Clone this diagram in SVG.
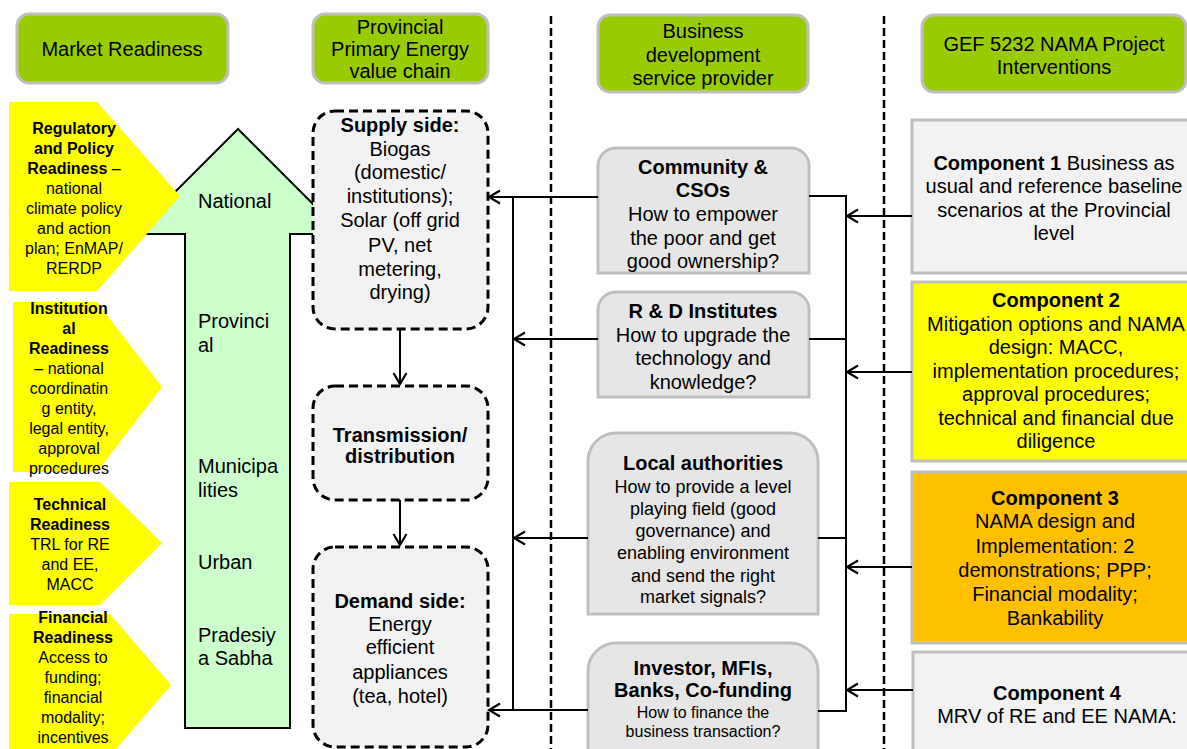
<svg xmlns="http://www.w3.org/2000/svg" width="1187" height="749" viewBox="0 0 1187 749">
<style>
text{font-family:"Liberation Sans",Arial,sans-serif;fill:#000;text-anchor:middle}
.b{font-weight:bold}
.f16{font-size:16px}
.f18{font-size:18px}
.f20{font-size:20px}
.hdr{fill:#99cc00;stroke:#bfbfbf;stroke-width:3}
.pent{fill:#ffff00;stroke:none}
.vc{fill:#f2f2f2;stroke:#000;stroke-width:3;stroke-dasharray:9 5}
.bds{fill:#e6e6e6;stroke:#bfbfbf;stroke-width:3}
.cmp{stroke:#bfbfbf;stroke-width:3}
.sep{stroke:#000;stroke-width:2.5;stroke-dasharray:8 4;fill:none}
.ln{stroke:#000;stroke-width:2;fill:none}
.lft{text-anchor:start}
</style>
<defs>
<marker id="ah" markerUnits="userSpaceOnUse" viewBox="0 0 16 16" markerWidth="16" markerHeight="16" refX="14" refY="8" orient="auto">
<path d="M3,1.5 L14,8 L3,14.5" fill="none" stroke="#000" stroke-width="2.2"/>
</marker>
</defs>

<!-- separators -->
<g id="separators">
<line class="sep" x1="551" y1="16" x2="551" y2="749"/>
<line class="sep" x1="884" y1="16" x2="884" y2="749"/>
</g>

<!-- headers -->
<g id="hdr-market">
<rect class="hdr" x="17" y="14" width="211" height="69" rx="12"/>
<text class="f20" x="122" y="56">Market Readiness</text>
</g>
<g id="hdr-provincial">
<rect class="hdr" x="313" y="14" width="175" height="69" rx="12"/>
<text class="f20" x="400" y="34">Provincial</text>
<text class="f20" x="400" y="56">Primary Energy</text>
<text class="f20" x="400" y="78">value chain</text>
</g>
<g id="hdr-bds">
<rect class="hdr" x="598" y="15" width="210" height="77" rx="12"/>
<text class="f20" x="703" y="38">Business</text>
<text class="f20" x="703" y="62">development</text>
<text class="f20" x="703" y="85">service provider</text>
</g>
<g id="hdr-gef">
<rect class="hdr" x="922" y="15" width="264" height="77" rx="12"/>
<text class="f20" x="1054" y="51">GEF 5232 NAMA Project</text>
<text class="f20" x="1054" y="74">Interventions</text>
</g>

<!-- green level arrow -->
<g id="levels">
<polygon points="238,129 343,234 290,234 290,728 185,728 185,234 133,234" fill="#ccffcc" stroke="#000" stroke-width="2"/>
<text class="f20 lft" x="198" y="208">National</text>
<text class="f20 lft" x="198" y="328">Provinci</text>
<text class="f20 lft" x="198" y="352">al</text>
<text class="f20 lft" x="198" y="473">Municipa</text>
<text class="f20 lft" x="198" y="497">lities</text>
<text class="f20 lft" x="198" y="569">Urban</text>
<text class="f20 lft" x="198" y="642">Pradesiy</text>
<text class="f20 lft" x="198" y="665">a Sabha</text>
</g>

<!-- readiness pentagons -->
<g id="regulatory">
<polygon class="pent" points="9,102 97,102 180,196 97,291 9,291"/>
<text class="f16 b" x="74" y="134">Regulatory</text>
<text class="f16 b" x="74" y="154">and Policy</text>
<text class="f16" x="74" y="174"><tspan class="b">Readiness</tspan> –</text>
<text class="f16" x="74" y="194">national</text>
<text class="f16" x="74" y="214">climate policy</text>
<text class="f16" x="74" y="234">and action</text>
<text class="f16" x="74" y="254">plan; EnMAP/</text>
<text class="f16" x="74" y="274">RERDP</text>
</g>
<g id="institutional">
<polygon class="pent" points="13,302 97,302 162,387 97,472 13,472"/>
<text class="f16 b" x="69" y="314">Institution</text>
<text class="f16 b" x="69" y="334">al</text>
<text class="f16 b" x="69" y="354">Readiness</text>
<text class="f16" x="69" y="374">– national</text>
<text class="f16" x="69" y="394">coordinatin</text>
<text class="f16" x="69" y="414">g entity,</text>
<text class="f16" x="69" y="434">legal entity,</text>
<text class="f16" x="69" y="454">approval</text>
<text class="f16" x="69" y="474">procedures</text>
</g>
<g id="technical">
<polygon class="pent" points="9,482 100,482 162,543 100,605 9,605"/>
<text class="f16 b" x="70" y="510">Technical</text>
<text class="f16 b" x="70" y="530">Readiness</text>
<text class="f16" x="70" y="550">TRL for RE</text>
<text class="f16" x="70" y="570">and EE,</text>
<text class="f16" x="70" y="590">MACC</text>
</g>
<g id="financial">
<polygon class="pent" points="9,614 110,614 171,685 110,756 9,756"/>
<text class="f16 b" x="73" y="623">Financial</text>
<text class="f16 b" x="73" y="643">Readiness</text>
<text class="f16" x="73" y="663">Access to</text>
<text class="f16" x="73" y="683">funding;</text>
<text class="f16" x="73" y="703">financial</text>
<text class="f16" x="73" y="723">modality;</text>
<text class="f16" x="73" y="743">incentives</text>
</g>

<!-- value chain -->
<g id="supply">
<rect class="vc" x="313" y="111" width="175" height="218" rx="22"/>
<text class="f20 b" x="400" y="132">Supply side:</text>
<text class="f20" x="400" y="156">Biogas</text>
<text class="f20" x="400" y="179">(domestic/</text>
<text class="f20" x="400" y="203">institutions);</text>
<text class="f20" x="400" y="227">Solar (off grid</text>
<text class="f20" x="400" y="252">PV, net</text>
<text class="f20" x="400" y="276">metering,</text>
<text class="f20" x="400" y="299">drying)</text>
</g>
<g id="transmission">
<rect class="vc" x="313" y="386" width="175" height="114" rx="22"/>
<text class="f20 b" x="400" y="442">Transmission/</text>
<text class="f20 b" x="400" y="463">distribution</text>
</g>
<g id="demand">
<rect class="vc" x="313" y="547" width="175" height="200" rx="22"/>
<text class="f20 b" x="400" y="608">Demand side:</text>
<text class="f20" x="400" y="631">Energy</text>
<text class="f20" x="400" y="654">efficient</text>
<text class="f20" x="400" y="679">appliances</text>
<text class="f20" x="400" y="703">(tea, hotel)</text>
</g>

<!-- business development service providers -->
<g id="community">
<path class="bds" d="M598,273 V166 A18,18 0 0 1 616,148 H791 A18,18 0 0 1 809,166 V273 Z"/>
<text class="f20 b" x="703" y="174">Community &amp;</text>
<text class="f20 b" x="703" y="197">CSOs</text>
<text class="f20" x="703" y="221">How to empower</text>
<text class="f20" x="703" y="245">the poor and get</text>
<text class="f20" x="703" y="268">good ownership?</text>
</g>
<g id="rnd">
<path class="bds" d="M598,397 V310 A18,18 0 0 1 616,292 H791 A18,18 0 0 1 809,310 V397 Z"/>
<text class="f20 b" x="703" y="318">R &amp; D Institutes</text>
<text class="f20" x="703" y="342">How to upgrade the</text>
<text class="f20" x="703" y="365">technology and</text>
<text class="f20" x="703" y="389">knowledge?</text>
</g>
<g id="local">
<path class="bds" d="M588,614 V461 A28,28 0 0 1 616,433 H790 A28,28 0 0 1 818,461 V614 Z"/>
<text class="f20 b" x="703" y="470">Local authorities</text>
<text class="f18" x="703" y="493">How to provide a level</text>
<text class="f18" x="703" y="515">playing field (good</text>
<text class="f18" x="703" y="537">governance) and</text>
<text class="f18" x="703" y="559">enabling environment</text>
<text class="f18" x="703" y="582">and send the right</text>
<text class="f18" x="703" y="603">market signals?</text>
</g>
<g id="investor">
<path class="bds" d="M588,762 V671 A28,28 0 0 1 616,643 H790 A28,28 0 0 1 818,671 V762 Z"/>
<text class="f20 b" x="703" y="675">Investor, MFIs,</text>
<text class="f20 b" x="703" y="697">Banks, Co-funding</text>
<text class="f16" x="703" y="718">How to finance the</text>
<text class="f16" x="703" y="737">business transaction?</text>
</g>

<!-- components -->
<g id="component1">
<rect class="cmp" x="912" y="120" width="285" height="153" fill="#f2f2f2"/>
<text class="f20" x="1054" y="170"><tspan class="b">Component 1</tspan> Business as</text>
<text class="f20" x="1054" y="193">usual and reference baseline</text>
<text class="f20" x="1054" y="217">scenarios at the Provincial</text>
<text class="f20" x="1054" y="240">level</text>
</g>
<g id="component2">
<rect class="cmp" x="912" y="282" width="285" height="179" fill="#ffff00"/>
<text class="f20 b" x="1056" y="307">Component 2</text>
<text class="f20" x="1056" y="331">Mitigation options and NAMA</text>
<text class="f20" x="1056" y="354">design: MACC,</text>
<text class="f20" x="1056" y="378">implementation procedures;</text>
<text class="f20" x="1056" y="401">approval procedures;</text>
<text class="f20" x="1056" y="425">technical and financial due</text>
<text class="f20" x="1056" y="448">diligence</text>
</g>
<g id="component3">
<rect class="cmp" x="912" y="472" width="285" height="171" fill="#ffc000"/>
<text class="f20 b" x="1055" y="505">Component 3</text>
<text class="f20" x="1055" y="528">NAMA design and</text>
<text class="f20" x="1055" y="553">Implementation: 2</text>
<text class="f20" x="1055" y="577">demonstrations; PPP;</text>
<text class="f20" x="1055" y="601">Financial modality;</text>
<text class="f20" x="1055" y="625">Bankability</text>
</g>
<g id="component4">
<rect class="cmp" x="913" y="652" width="285" height="110" fill="#f2f2f2"/>
<text class="f20 b" x="1057" y="700">Component 4</text>
<text class="f20" x="1057" y="723">MRV of RE and EE NAMA:</text>
</g>

<!-- connectors -->
<g id="connectors">
<line class="ln" x1="400" y1="329" x2="400" y2="384" marker-end="url(#ah)"/>
<line class="ln" x1="400" y1="500" x2="400" y2="545" marker-end="url(#ah)"/>
<line class="ln" x1="598" y1="197" x2="489" y2="197" marker-end="url(#ah)"/>
<line class="ln" x1="513" y1="197" x2="513" y2="710"/>
<line class="ln" x1="598" y1="339" x2="514" y2="339" marker-end="url(#ah)"/>
<line class="ln" x1="588" y1="538" x2="514" y2="538" marker-end="url(#ah)"/>
<line class="ln" x1="588" y1="710" x2="489" y2="710" marker-end="url(#ah)"/>
<line class="ln" x1="846" y1="196" x2="846" y2="711"/>
<line class="ln" x1="809" y1="196" x2="847" y2="196"/>
<line class="ln" x1="809" y1="339" x2="847" y2="339"/>
<line class="ln" x1="818" y1="538" x2="847" y2="538"/>
<line class="ln" x1="818" y1="711" x2="847" y2="711"/>
<line class="ln" x1="912" y1="216" x2="847" y2="216" marker-end="url(#ah)"/>
<line class="ln" x1="912" y1="372" x2="847" y2="372" marker-end="url(#ah)"/>
<line class="ln" x1="912" y1="567" x2="847" y2="567" marker-end="url(#ah)"/>
<line class="ln" x1="913" y1="690" x2="847" y2="690" marker-end="url(#ah)"/>
</g>
</svg>
